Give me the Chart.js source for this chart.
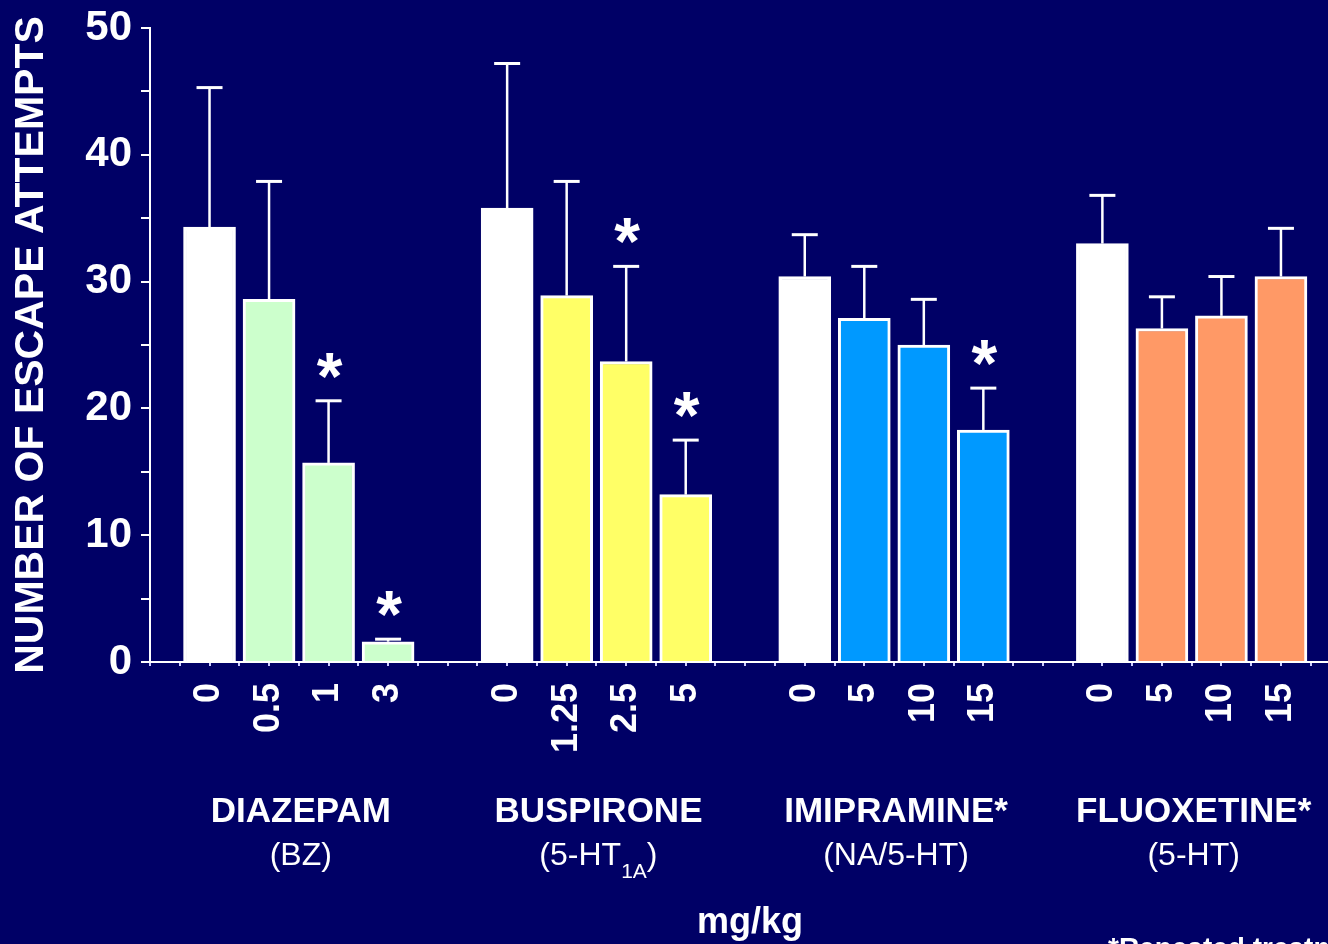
<!DOCTYPE html>
<html>
<head>
<meta charset="utf-8">
<script src="https://cdn.jsdelivr.net/npm/chart.js@4/dist/chart.umd.min.js"></script>
<style>
html,body{margin:0;padding:0;background:#000066;overflow:hidden;width:1328px;height:944px;}
#wrap{position:relative;width:1400px;height:944px;}
canvas{display:block;}
</style>
</head>
<body>
<div id="wrap"><canvas id="c" width="1400" height="944"></canvas></div>
<script>
// ---- data ----
const drugNames = ['DIAZEPAM', 'BUSPIRONE', 'IMIPRAMINE*', 'FLUOXETINE*'];
const drugTargets = ['(BZ)', '(5-HT_{1A})', '(NA/5-HT)', '(5-HT)'];

const diazepamDoses = ['0', '0.5', '1', '3'];
const diazepamMeans = [34.3, 28.6, 15.7, 1.6];
const diazepamErrors = [11.0, 9.3, 4.9, 0.2];
const diazepamSignificant = [false, false, true, true];

const buspironeDoses = ['0', '1.25', '2.5', '5'];
const buspironeMeans = [35.8, 28.9, 23.7, 13.2];
const buspironeErrors = [11.4, 9.0, 7.5, 4.3];
const buspironeSignificant = [false, false, true, true];

const imipramineDoses = ['0', '5', '10', '15'];
const imipramineMeans = [30.4, 27.1, 25.0, 18.3];
const imipramineErrors = [3.3, 4.1, 3.6, 3.3];
const imipramineSignificant = [false, false, false, true];

const fluoxetineDoses = ['0', '5', '10', '15'];
const fluoxetineMeans = [33.0, 26.3, 27.3, 30.4];
const fluoxetineErrors = [3.8, 2.5, 3.1, 3.8];
const fluoxetineSignificant = [false, false, false, false];

const yAxisTitle = 'NUMBER OF ESCAPE ATTEMPTS';
const doseUnit = 'mg/kg';
const footnote = '*Repeated treatment';

// ---- styles ----
const FONT = "'Liberation Sans', Arial, Helvetica, sans-serif";
const controlColor = '#FFFFFF';
const groupColors = ['#CCFFCC', '#FFFF66', '#0099FF', '#FF9966'];

const allDoses = [diazepamDoses, buspironeDoses, imipramineDoses, fluoxetineDoses];
const allMeans = [diazepamMeans, buspironeMeans, imipramineMeans, fluoxetineMeans];
const allErrors = [diazepamErrors, buspironeErrors, imipramineErrors, fluoxetineErrors];
const allSig = [diazepamSignificant, buspironeSignificant, imipramineSignificant, fluoxetineSignificant];

// build bar points: each group occupies 4 slots, with one empty slot between groups
const points = [];
const colors = [];
const labelMap = {};
const groupCenters = [];
allMeans.forEach((means, g) => {
  const xs = [];
  means.forEach((m, i) => {
    const xv = 1 + g * 5 + i;
    xs.push(xv);
    points.push({x: xv, y: m, err: allErrors[g][i], sig: allSig[g][i]});
    colors.push(i === 0 ? controlColor : groupColors[g]);
    labelMap[xv] = allDoses[g][i];
  });
  groupCenters.push((xs[0] + xs[xs.length - 1]) / 2);
});

const annotations = {
  id: 'annotations',
  afterDatasetsDraw(chart) {
    const {ctx, scales: {x, y}} = chart;
    ctx.save();
    ctx.strokeStyle = '#FFFFFF';
    ctx.fillStyle = '#FFFFFF';
    points.forEach(p => {
      const px = x.getPixelForValue(p.x);
      const yTop = y.getPixelForValue(p.y);
      const yErr = y.getPixelForValue(p.y + p.err);
      ctx.lineWidth = 2.5;
      ctx.beginPath();
      ctx.moveTo(px, yTop);
      ctx.lineTo(px, yErr);
      ctx.stroke();
      ctx.lineWidth = 3;
      ctx.beginPath();
      ctx.moveTo(px - 13, yErr);
      ctx.lineTo(px + 13, yErr);
      ctx.stroke();
      if (p.sig) {
        ctx.font = 'bold 66px ' + FONT;
        ctx.textAlign = 'center';
        ctx.textBaseline = 'alphabetic';
        ctx.fillText('*', px + 1, yErr - 2);
      }
    });
    ctx.restore();
  },
  afterDraw(chart) {
    const {ctx, scales: {x}} = chart;
    ctx.save();
    ctx.fillStyle = '#FFFFFF';
    ctx.textBaseline = 'alphabetic';
    groupCenters.forEach((c, g) => {
      const cx = x.getPixelForValue(c);
      ctx.font = 'bold 35px ' + FONT;
      ctx.textAlign = 'center';
      ctx.fillText(drugNames[g], cx + 2, 822);
      const t = drugTargets[g];
      const m = t.match(/^(.*)_\{(.*)\}(.*)$/);
      const mainFont = '32px ' + FONT;
      const subFont = '21px ' + FONT;
      if (m) {
        ctx.font = mainFont;
        const w1 = ctx.measureText(m[1]).width;
        const w3 = ctx.measureText(m[3]).width;
        ctx.font = subFont;
        const w2 = ctx.measureText(m[2]).width;
        let sx = cx + 2 - (w1 + w2 + w3) / 2;
        ctx.textAlign = 'left';
        ctx.font = mainFont;
        ctx.fillText(m[1], sx, 865);
        sx += w1;
        ctx.font = subFont;
        ctx.fillText(m[2], sx, 878);
        sx += w2;
        ctx.font = mainFont;
        ctx.fillText(m[3], sx, 865);
      } else {
        ctx.font = mainFont;
        ctx.textAlign = 'center';
        ctx.fillText(t, cx + 2, 865);
      }
    });
    ctx.font = 'bold 36px ' + FONT;
    ctx.textAlign = 'center';
    ctx.fillText(doseUnit, 750, 933);
    ctx.font = 'bold 28px ' + FONT;
    ctx.textAlign = 'left';
    ctx.fillText(footnote, 1108, 957);
    ctx.restore();
  }
};

new Chart(document.getElementById('c'), {
  type: 'bar',
  data: {
    datasets: [{
      data: points,
      backgroundColor: colors,
      borderColor: '#FFFFFF',
      borderWidth: 3,
      barThickness: 52
    }]
  },
  options: {
    responsive: false,
    animation: false,
    devicePixelRatio: 1,
    layout: {padding: {top: 28, left: 0, right: 0, bottom: 0}},
    plugins: {legend: {display: false}, tooltip: {enabled: false}},
    scales: {
      x: {
        type: 'linear',
        min: 0,
        max: 21,
        offset: false,
        grid: {drawOnChartArea: false, drawTicks: true, tickLength: 4, color: '#ccccff', lineWidth: 2, offset: false},
        border: {color: '#FFFFFF', width: 2},
        ticks: {
          stepSize: 0.5,
          autoSkip: false,
          minRotation: 90,
          maxRotation: 90,
          padding: 17,
          color: '#FFFFFF',
          font: {family: FONT, size: 36, weight: 'bold'},
          callback: v => (labelMap[v] !== undefined ? labelMap[v] : '')
        },
        afterFit: s => { s.height = 282; s.paddingLeft = 0; s.paddingRight = 0; }
      },
      y: {
        min: 0,
        max: 50,
        grid: {drawOnChartArea: false, drawTicks: true, tickLength: 9, color: '#FFFFFF', lineWidth: 2},
        border: {color: '#FFFFFF', width: 2},
        ticks: {
          stepSize: 5,
          padding: 9,
          color: '#FFFFFF',
          font: {family: FONT, size: 42, weight: 'bold'},
          callback: v => (v % 10 === 0 ? String(v) : '')
        },
        title: {
          display: true,
          text: yAxisTitle,
          color: '#FFFFFF',
          font: {family: FONT, size: 41, weight: 'bold'},
          padding: {top: 7, bottom: 0}
        },
        afterFit: s => { s.width = 150; s.paddingTop = 0; s.paddingBottom = 0; }
      }
    }
  },
  plugins: [annotations]
});
</script>
</body>
</html>
